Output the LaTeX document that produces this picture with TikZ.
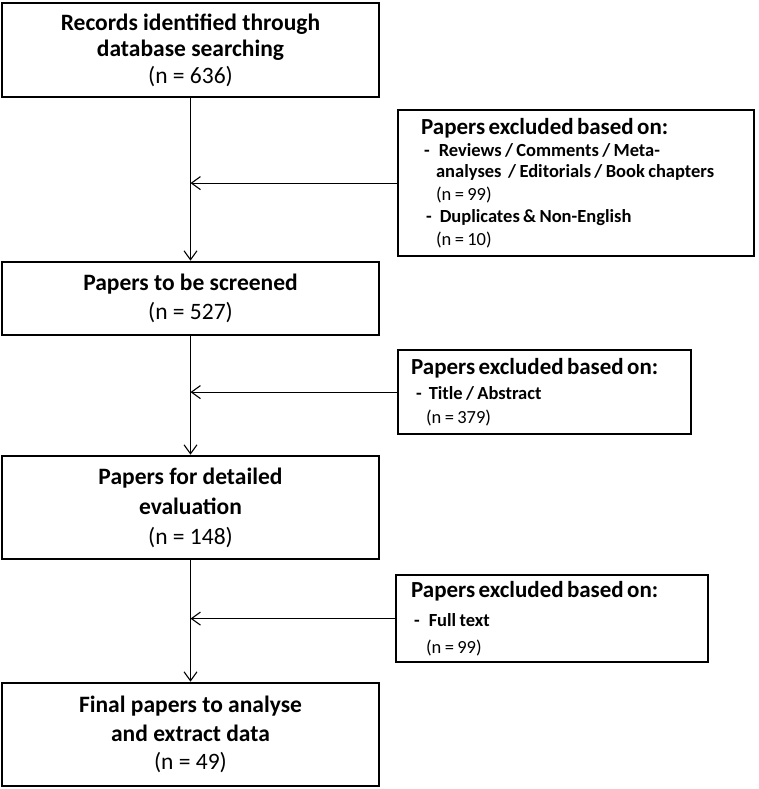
\documentclass[tikz,border=0pt]{standalone}
\usepackage{fontspec}
\setmainfont{Carlito}
\usetikzlibrary{arrows.meta,positioning}

\begin{document}
\begin{tikzpicture}[x=1pt,y=-1pt,
    stage/.style={draw,line width=2.6pt,minimum width=377pt,align=center,inner sep=0pt,
        font=\fontsize{23.5}{26.5}\selectfont},
    excl/.style={draw,line width=2.2pt,anchor=north west,align=left,inner ysep=0pt},
    flow/.style={line width=1.1pt,-{Straight Barb[length=9pt,width=13pt]}}]
    \useasboundingbox (0,0) rectangle (758,789);

    % records identified
    \node[stage,minimum height=94pt] (records) at (190.5,50)
        {\textbf{Records identified through}\\\textbf{database searching}\\(n = 636)};

    % screened
    \node[stage,minimum height=73pt] (screen) at (190.5,298.5)
        {\textbf{Papers to be screened}\\[3pt](n = 527)};

    % detailed evaluation
    \node[stage,minimum height=103pt] (eval) at (190.5,507.5)
        {\textbf{Papers for detailed}\\[4pt]\textbf{evaluation}\\[3pt](n = 148)};

    % final papers
    \node[stage,minimum height=103pt] (final) at (190.5,734.5)
        {\textbf{Final papers to analyse}\\[2pt]\textbf{and extract data}\\[2pt](n = 49)};

    % exclusions after searching
    \node[excl,minimum width=356pt,minimum height=146pt,inner xsep=23pt,text width=310pt] (excla) at (397,109)
        {{\fontsize{23}{24}\selectfont\bfseries Papers excluded based on:\par}
         {\fontsize{18.5}{22}\selectfont\bfseries\hspace*{3pt}-\hspace*{9pt}Reviews / Comments / Meta-\par}
         {\fontsize{18.5}{21}\selectfont\bfseries\hspace*{15pt}analyses~ / Editorials / Book chapters\par}
         {\fontsize{18.5}{23}\selectfont\hspace*{15pt}(n = 99)\par}
         {\fontsize{18.5}{22}\selectfont\bfseries\hspace*{5pt}-\hspace*{8pt}Duplicates \& Non-English\par}
         {\fontsize{18.5}{23}\selectfont\hspace*{15pt}(n = 10)\par}};

    % exclusions after screening
    \node[excl,minimum width=293pt,minimum height=84pt,inner xsep=13pt,text width=267pt] (exclb) at (397,349)
        {\vspace*{3pt}{\fontsize{23}{24}\selectfont\bfseries Papers excluded based on:\par}
         {\fontsize{18.5}{22}\selectfont\bfseries\hspace*{5pt}-\hspace*{7pt}Title / Abstract\par}
         {\fontsize{18.5}{24}\selectfont\hspace*{15pt}(n = 379)\par}};

    % exclusions after evaluation
    \node[excl,minimum width=312pt,minimum height=87pt,inner xsep=15pt,text width=282pt] (exclc) at (395,574)
        {\vspace*{7pt}{\fontsize{23}{24}\selectfont\bfseries Papers excluded based on:\par}
         {\fontsize{18.5}{22}\selectfont\bfseries\hspace*{3pt}-\hspace*{9pt}Full text\par}
         {\fontsize{18.5}{27}\selectfont\hspace*{15pt}(n = 99)\par}};

    % main flow
    \draw[flow] (records) -- (screen);
    \draw[flow] (screen) -- (eval);
    \draw[flow] (eval) -- (final);

    % exclusions into the flow
    \draw[flow] (excla.west) -- (excla.west -| records.south);
    \draw[flow] (exclb.west) -- (exclb.west -| screen.south);
    \draw[flow] (exclc.west) -- (exclc.west -| eval.south);
\end{tikzpicture}
\end{document}
